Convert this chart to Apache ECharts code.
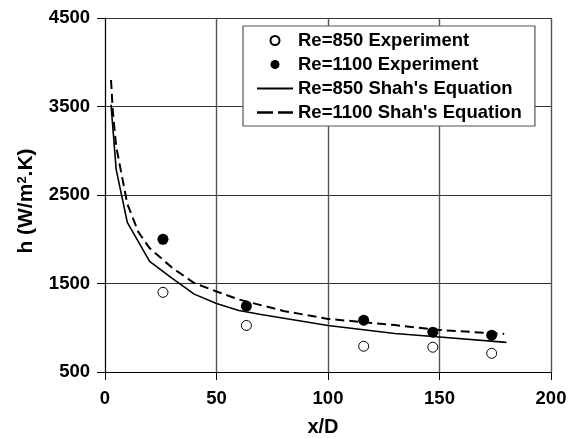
<!DOCTYPE html>
<html><head><meta charset="utf-8">
<script src="https://cdn.jsdelivr.net/npm/echarts@6/dist/echarts.min.js"></script>
<style>html,body{margin:0;padding:0;background:#fff}#c{width:574px;height:438px}</style>
</head><body><div id="c"></div>
<script>
var xTicks = [0, 50, 100, 150, 200];
var yTicks = [500, 1500, 2500, 3500, 4500];
var expX = [26, 63.4, 116, 147, 173.4];
var re850Exp = [1400, 1026, 791, 780, 711];
var re1100Exp = [2000, 1245, 1086, 950, 916];
var re850ShahX = [2.7, 5, 10, 20, 30, 40, 50, 60, 70, 100, 130, 150, 180];
var re850Shah = [3520, 2790, 2190, 1750, 1560, 1380, 1275, 1195, 1150, 1025, 935, 895, 835];
var re1100ShahX = [2.7, 3.5, 5, 7, 10, 15, 20, 30, 40, 50, 60, 80, 100, 130, 150, 179];
var re1100Shah = [3800, 3450, 3050, 2790, 2400, 2080, 1900, 1680, 1505, 1410, 1320, 1190, 1100, 1030, 975, 930];

function pairs(xs, ys){ return xs.map(function(x,i){ return [x, ys[i]]; }); }
var F = '"Liberation Sans", Arial, Helvetica, sans-serif';
var chart = echarts.init(document.getElementById('c'), null, {renderer:'canvas'});
chart.setOption({
  animation: false,
  backgroundColor: '#fff',
  textStyle: {fontFamily: F},
  grid: {left: 105, top: 18, right: 23, bottom: 66, containLabel: false, outerBoundsMode: 'none'},
  graphic: [{
    type: 'text', x: 26, y: 201, rotation: Math.PI / 2, silent: true,
    style: {
      text: 'h (W/m{sup|2}.K)', fontFamily: F, fontSize: 21, fontWeight: 'bold', fill: '#000',
      align: 'center', verticalAlign: 'middle',
      rich: {sup: {fontSize: 13, fontWeight: 'bold', fontFamily: F, fill: '#000', verticalAlign: 'top', padding: [0,0,8,0]}}
    }
  }],
  xAxis: {
    type: 'value', min: xTicks[0], max: xTicks[xTicks.length-1], interval: 50,
    name: 'x/D', nameLocation: 'middle', nameGap: 45,
    nameTextStyle: {fontSize: 20, fontWeight: 'bold', color: '#000', fontFamily: F, padding: [0, 10, 0, 0]},
    axisLine: {show: true, onZero: false, lineStyle: {color: '#000', width: 1}},
    axisTick: {show: true, inside: false, length: 8, lineStyle: {color: '#000', width: 1}},
    axisLabel: {fontSize: 18.5, fontWeight: 'bold', color: '#000', margin: 17, fontFamily: F,
      formatter: function(v){ return String(v); }},
    splitLine: {show: true, lineStyle: {color: '#555', width: 1.4}}
  },
  yAxis: {
    type: 'value', min: yTicks[0], max: yTicks[yTicks.length-1], interval: 1000,
    axisLine: {show: true, onZero: false, lineStyle: {color: '#000', width: 1}},
    axisTick: {show: true, inside: false, length: 8, lineStyle: {color: '#000', width: 1}},
    axisLabel: {fontSize: 18.5, fontWeight: 'bold', color: '#000', margin: 15, fontFamily: F,
      formatter: function(v){ return String(v); }},
    splitLine: {show: true, lineStyle: {color: '#333', width: 1}}
  },
  legend: {
    orient: 'vertical', left: 243, top: 26,
    backgroundColor: '#fff', borderColor: '#555', borderWidth: 1.2, borderRadius: 0,
    padding: [5, 13, 4, 14],
    itemWidth: 36, itemHeight: 9, itemGap: 5,
    textStyle: {fontSize: 18.5, fontWeight: 'bold', color: '#000', fontFamily: F},
    data: [
      {name: 'Re=850 Experiment', icon: 'circle'},
      {name: 'Re=1100 Experiment', icon: 'circle'},
      {name: "Re=850 Shah's Equation", icon: 'path://M0,0H36V2H0Z'},
      {name: "Re=1100 Shah's Equation", icon: 'path://M0,0H16V2.6H0ZM21,0H36V2.6H21Z'}
    ]
  },
  series: [
    {name: "Re=850 Shah's Equation", type: 'line', data: pairs(re850ShahX, re850Shah),
     symbol: 'none', smooth: false, z: 2,
     lineStyle: {color: '#000', width: 1.6, type: 'solid'}, itemStyle: {color: '#000'}},
    {name: "Re=1100 Shah's Equation", type: 'line', data: pairs(re1100ShahX, re1100Shah),
     symbol: 'none', smooth: false, z: 2,
     lineStyle: {color: '#000', width: 2, type: [9, 5]}, itemStyle: {color: '#000'}},
    {name: 'Re=850 Experiment', type: 'scatter', data: pairs(expX, re850Exp),
     symbol: 'circle', symbolSize: 10, z: 3,
     itemStyle: {color: '#fff', borderColor: '#000', borderWidth: 1, opacity: 1}},
    {name: 'Re=1100 Experiment', type: 'scatter', data: pairs(expX, re1100Exp),
     symbol: 'circle', symbolSize: 11, z: 3,
     itemStyle: {color: '#000', borderColor: '#000', borderWidth: 0, opacity: 1}}
  ]
});
</script></body></html>
